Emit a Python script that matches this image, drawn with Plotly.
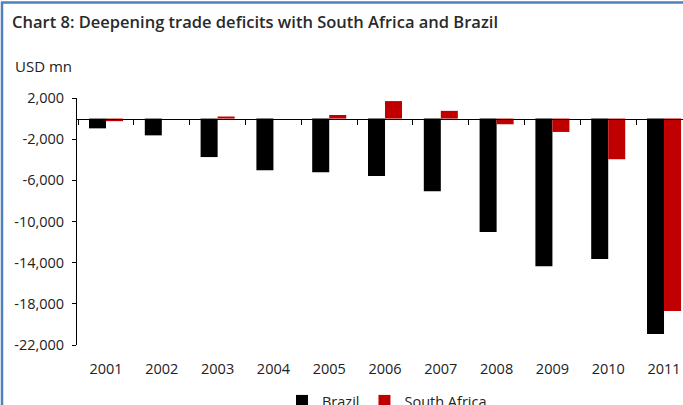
import plotly.graph_objects as go

years = ["2001", "2002", "2003", "2004", "2005", "2006", "2007", "2008", "2009", "2010", "2011"]
brazil = [-950, -1630, -3740, -5030, -5220, -5580, -7070, -11020, -14350, -13640, -20920]
south_africa = [-250, 0, 200, 0, 350, 1700, 750, -550, -1300, -3950, -18700]

y_tickvals = [2000, -2000, -6000, -10000, -14000, -18000, -22000]
y_ticktext = ["2,000", "-2,000", "-6,000", "-10,000", "-14,000", "-18,000", "-22,000"]

W, H = 683, 405
ML, MR, MT, MB = 77, 0, 98, 60
PW, PH = W - ML - MR, H - MT - MB
YMIN, YMAX = -22000, 2000

def px_x(p):
    return (p - ML) / PW

def px_y(p):
    return (H - MB - p) / PH

FONT = "Open Sans, Liberation Sans, Arial, sans-serif"
TXT = "#222222"
BLUE = "#4f81bd"

fig = go.Figure()
fig.add_trace(go.Bar(name="Brazil", x=years, y=brazil, marker=dict(color="#000000", line=dict(width=0))))
fig.add_trace(go.Bar(name="South Africa", x=years, y=south_africa, marker=dict(color="#c00000", line=dict(width=0))))
# helper trace so the zero-level category axis (line + boundary ticks) is built
fig.add_trace(go.Scatter(x=years, y=brazil, xaxis="x2", mode="none", showlegend=False, hoverinfo="skip"))

zero_pos = (0 - YMIN) / (YMAX - YMIN)

fig.update_layout(
    width=W, height=H,
    margin=dict(l=ML, r=MR, t=MT, b=MB, autoexpand=False),
    paper_bgcolor="white", plot_bgcolor="white",
    barmode="group", bargap=0.39, bargroupgap=0,
    font=dict(family=FONT, size=14, color=TXT),
    title=dict(
        text="Chart 8: Deepening trade deficits with South Africa and Brazil",
        xref="container", yref="container", x=12 / W, xanchor="left",
        y=1 - 22.5 / H, yanchor="middle",
        font=dict(family=FONT, size=16.5, color="#2a2a2a", weight=600),
    ),
    xaxis=dict(
        type="category", range=[-0.52, -0.52 + PW / 55.8],
        showline=False, ticks="", showgrid=False, zeroline=False,
        tickfont=dict(size=14.5, color=TXT), ticklabelstandoff=13,
    ),
    xaxis2=dict(
        type="category", matches="x", overlaying="x", anchor="free", position=zero_pos,
        side="bottom", showline=True, linecolor="#000000", linewidth=1,
        ticks="outside", ticklen=5, tickcolor="#000000", tickwidth=1,
        tickson="boundaries", showticklabels=False, showgrid=False, zeroline=False,
    ),
    yaxis=dict(
        range=[YMIN, YMAX], tickvals=y_tickvals, ticktext=y_ticktext,
        showline=True, linecolor="#000000", linewidth=1,
        ticks="outside", ticklen=4, tickcolor="#000000",
        showgrid=False, zeroline=False, tickfont=dict(size=14.5, color=TXT),
        ticklabelstandoff=5,
    ),
    legend=dict(
        orientation="h", x=px_x(282), xanchor="left", y=px_y(385), yanchor="top",
        font=dict(size=14.5, color=TXT), bgcolor="rgba(0,0,0,0)",
    ),
    annotations=[dict(
        text="USD mn", xref="paper", yref="paper", x=px_x(13), y=px_y(66.5),
        xanchor="left", yanchor="middle", showarrow=False,
        font=dict(family=FONT, size=15, color=TXT),
    )],
    shapes=[
        dict(type="line", xref="paper", yref="paper", x0=px_x(2), x1=px_x(2), y0=px_y(2), y1=px_y(H + 5),
             line=dict(color=BLUE, width=2.5)),
        dict(type="line", xref="paper", yref="paper", x0=px_x(1), x1=px_x(W + 5), y0=px_y(2.5), y1=px_y(2.5),
             line=dict(color=BLUE, width=2.5)),
    ],
)

fig.write_html(
    "out.html",
    config={"displayModeBar": False},
    post_script="document.body.style.margin='0';document.body.style.overflow='hidden';",
)
